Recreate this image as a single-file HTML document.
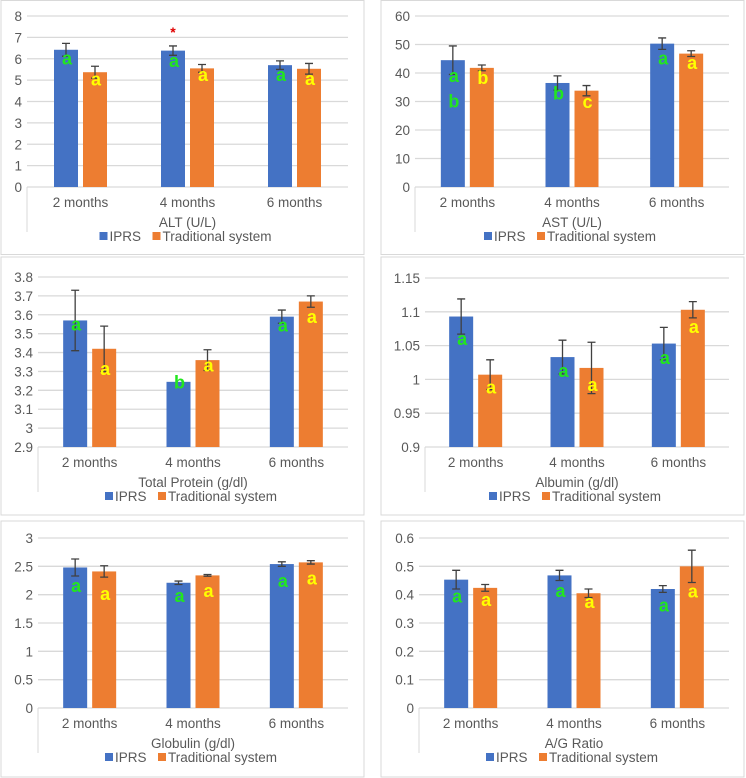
<!DOCTYPE html>
<html><head><meta charset="utf-8">
<style>
html,body{margin:0;padding:0;background:#fff;}
svg{display:block;font-family:"Liberation Sans",sans-serif;}
</style></head>
<body>
<svg id="root" width="746" height="778" viewBox="0 0 746 778" xmlns="http://www.w3.org/2000/svg"></svg>
<script>
const categories = ["2 months","4 months","6 months"];
const seriesNames = ["IPRS","Traditional system"];

const altIPRS = [6.42, 6.38, 5.70];
const altTrad = [5.37, 5.55, 5.53];
const altIPRSErr = [0.30, 0.22, 0.20];
const altTradErr = [0.28, 0.18, 0.25];
const altTicks = [0,1,2,3,4,5,6,7,8];

const astIPRS = [44.5, 36.5, 50.3];
const astTrad = [41.8, 33.8, 46.8];
const astIPRSErr = [5.0, 2.5, 2.0];
const astTradErr = [1.0, 1.8, 1.0];
const astTicks = [0,10,20,30,40,50,60];

const tpIPRS = [3.57, 3.245, 3.59];
const tpTrad = [3.42, 3.36, 3.67];
const tpIPRSErr = [0.16, 0.0, 0.035];
const tpTradErr = [0.12, 0.055, 0.03];
const tpTicks = [2.9,3,3.1,3.2,3.3,3.4,3.5,3.6,3.7,3.8];

const albIPRS = [1.093, 1.033, 1.053];
const albTrad = [1.007, 1.017, 1.103];
const albIPRSErr = [0.026, 0.025, 0.024];
const albTradErr = [0.022, 0.038, 0.012];
const albTicks = [0.9,0.95,1,1.05,1.1,1.15];

const gloIPRS = [2.48, 2.21, 2.54];
const gloTrad = [2.41, 2.34, 2.57];
const gloIPRSErr = [0.15, 0.03, 0.04];
const gloTradErr = [0.10, 0.015, 0.03];
const gloTicks = [0,0.5,1,1.5,2,2.5,3];

const agIPRS = [0.453, 0.468, 0.420];
const agTrad = [0.424, 0.405, 0.500];
const agIPRSErr = [0.033, 0.018, 0.012];
const agTradErr = [0.012, 0.015, 0.057];
const agTicks = [0,0.1,0.2,0.3,0.4,0.5,0.6];

const altLetters = [[["a",6.0]],[["a",5.0]],[["a",5.88]],[["a",5.22]],[["a",5.22]],[["a",5.04]]];
const astLetters = [[["a",38.8],["b",29.8]],[["b",38.0]],[["b",32.6]],[["c",29.7]],[["a",45.0]],[["a",43.3]]];
const tpLetters = [[["a",3.545]],[["a",3.31]],[["b",3.24]],[["a",3.33]],[["a",3.54]],[["a",3.585]]];
const albLetters = [[["a",1.059]],[["a",0.987]],[["a",1.012]],[["a",0.991]],[["a",1.031]],[["a",1.077]]];
const gloLetters = [[["a",2.147]],[["a",2.006]],[["a",1.97]],[["a",2.06]],[["a",2.235]],[["a",2.28]]];
const agLetters = [[["a",0.392]],[["a",0.38]],[["a",0.412]],[["a",0.372]],[["a",0.36]],[["a",0.409]]];

const NS="http://www.w3.org/2000/svg";
const root=document.getElementById('root');
function mk(tag,attrs,parent,text){
  const e=document.createElementNS(NS,tag);
  for(const k in attrs) e.setAttribute(k,attrs[k]);
  if(text!==undefined) e.textContent=text;
  (parent||root).appendChild(e);
  return e;
}

function drawPanel(cfg){
  const g=mk('g',{});
  
  
  const border=mk('rect',{x:cfg.bx,y:cfg.by,width:cfg.bw,height:cfg.bh,fill:'#fff',stroke:'#d9d9d9','stroke-width':1},g);
  
  
  const min=cfg.ticks[0], max=cfg.ticks[cfg.ticks.length-1];
  const yS=v=>cfg.y0-(v-min)/(max-min)*(cfg.y0-cfg.yTop);
  const cw=(cfg.right-cfg.left)/categories.length;
  const xC=i=>cfg.left+cw*(i+0.5);
  cfg.ticks.forEach(t=>{
    const y=yS(t);
    const gl=mk('line',{x1:cfg.left,x2:cfg.right,y1:y,y2:y,stroke:'#d9d9d9','stroke-width':1.3},g);
    
    
    const tl=mk('text',{x:cfg.left-5,y:y+5,'text-anchor':'end','font-size':13.5,fill:'#595959'},g,String(t));
    
    
  });
  const vl=mk('line',{x1:cfg.left,x2:cfg.left,y1:cfg.y0,y2:cfg.y0+45,stroke:'#d9d9d9','stroke-width':1},g);
  
  
  const colors=['#4472c4','#ed7d31'];
  const series=[cfg.s1,cfg.s2], errs=[cfg.e1,cfg.e2];
  const bw=24, gap=5;
  categories.forEach((c,i)=>{
    const cx=xC(i);
    [0,1].forEach(s=>{
      const x=s===0?cx-gap/2-bw:cx+gap/2;
      const v=series[s][i];
      const r=mk('rect',{x:x,y:yS(v),width:bw,height:cfg.y0-yS(v),fill:colors[s]},g);
      
      
      const e=errs[s][i];
      if(e>0){
        const bx=x+bw/2;
        const eb=mk('path',{d:`M${bx},${yS(v+e)}V${yS(v-e)}M${bx-4},${yS(v+e)}H${bx+4}M${bx-4},${yS(v-e)}H${bx+4}`,stroke:'#404040','stroke-width':1.3,fill:'none'},g);
        
        
      }
      cfg.letters[i*2+s].forEach(L=>{
        const lt=mk('text',{x:x+bw/2+1,y:yS(L[1])+5.5,'text-anchor':'middle','font-size':18,'font-weight':'bold',fill:s===0?'#22e61e':'#ffff00'},g,L[0]);
        
        
      });
    });
    const xl=mk('text',{x:cx,y:cfg.y0+20,'text-anchor':'middle','font-size':13.5,fill:'#595959'},g,c);
    
    
  });
  if(cfg.star){
    const st=mk('text',{x:xC(cfg.star[0])-gap/2-bw/2,y:yS(cfg.star[1])+6,'text-anchor':'middle','font-size':14,'font-weight':'bold',fill:'#e00000'},g,'*');
    
    
  }
  const mid=(cfg.left+cfg.right)/2;
  const ti=mk('text',{x:mid,y:cfg.y0+40,'text-anchor':'middle','font-size':13.5,fill:'#595959'},g,cfg.title);
  
  
  const ly=cfg.y0+49;
  const lx=mid-88;
  const l1=mk('g',{},g);
  
  
  mk('rect',{x:lx,y:ly-4,width:8,height:8,fill:colors[0]},l1);
  mk('text',{x:lx+10,y:ly+5,'font-size':13.5,fill:'#595959'},l1,seriesNames[0]);
  const l2=mk('g',{},g);
  
  
  mk('rect',{x:lx+53,y:ly-4,width:8,height:8,fill:colors[1]},l2);
  mk('text',{x:lx+63,y:ly+5,'font-size':13.5,fill:'#595959'},l2,seriesNames[1]);
}

drawPanel({name:'alt-chart',bx:1,by:0.5,bw:363,bh:254,left:27,right:348,yTop:16,y0:187,ticks:altTicks,s1:altIPRS,s2:altTrad,e1:altIPRSErr,e2:altTradErr,letters:altLetters,title:'ALT (U/L)',star:[1,7.3]});
drawPanel({name:'ast-chart',bx:381,by:0.5,bw:363,bh:254,left:415,right:729,yTop:16,y0:187,ticks:astTicks,s1:astIPRS,s2:astTrad,e1:astIPRSErr,e2:astTradErr,letters:astLetters,title:'AST (U/L)'});
drawPanel({name:'total-protein-chart',bx:1,by:257,bw:363,bh:258,left:38,right:348,yTop:277,y0:447,ticks:tpTicks,s1:tpIPRS,s2:tpTrad,e1:tpIPRSErr,e2:tpTradErr,letters:tpLetters,title:'Total Protein (g/dl)'});
drawPanel({name:'albumin-chart',bx:381,by:257,bw:363,bh:258,left:425,right:729,yTop:278,y0:447,ticks:albTicks,s1:albIPRS,s2:albTrad,e1:albIPRSErr,e2:albTradErr,letters:albLetters,title:'Albumin (g/dl)'});
drawPanel({name:'globulin-chart',bx:1,by:521,bw:363,bh:256,left:38,right:348,yTop:538,y0:708,ticks:gloTicks,s1:gloIPRS,s2:gloTrad,e1:gloIPRSErr,e2:gloTradErr,letters:gloLetters,title:'Globulin (g/dl)'});
drawPanel({name:'ag-ratio-chart',bx:381,by:521,bw:363,bh:256,left:419,right:729,yTop:538,y0:708,ticks:agTicks,s1:agIPRS,s2:agTrad,e1:agIPRSErr,e2:agTradErr,letters:agLetters,title:'A/G Ratio'});
</script>
</body></html>
